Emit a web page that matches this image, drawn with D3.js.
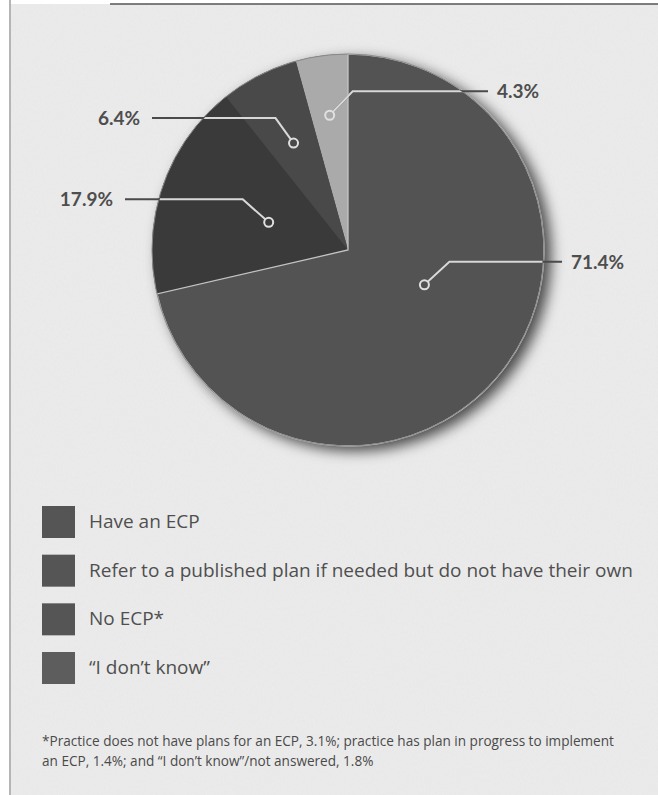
<!DOCTYPE html>
<html>
<head>
<meta charset="utf-8">
<script src="https://cdn.jsdelivr.net/npm/d3@7"></script>
<style>
  html, body { margin: 0; padding: 0; background: #ffffff; }
  svg { display: block; }
</style>
</head>
<body>
<div id="chart"></div>
<script>
// ---- data ----
const categories = ["Have an ECP", "Refer to a published plan if needed but do not have their own", "No ECP*", "\u201CI don\u2019t know\u201D"];
const values = [71.4, 17.9, 6.4, 4.3];
const valueLabels = ["71.4%", "17.9%", "6.4%", "4.3%"];
const footnoteLines = [
  "*Practice does not have plans for an ECP, 3.1%; practice has plan in progress to implement",
  "an ECP, 1.4%; and \u201CI don\u2019t know\u201D/not answered, 1.8%"
];

// ---- layout / style ----
const W = 658, H = 795;
const cx = 348, cy = 250, R = 196;
const sliceColors = ["#535353", "#3a3a3a", "#494949", "#aaaaaa"];
const sliceStroke = ["#c4c4c4", "none", "none", "none"];
const legendColors = ["#555555", "#555555", "#555555", "#5d5d5d"];
// leader layout per slice: anchor radius, angle shift (deg), elbow offset, horizontal end x, side
const leaders = [
  { r: 84, shift: -14, dx: 25, dy: -23, endX: 562, side: "right" },
  { r: 84, shift: 0, dx: -26, dy: -23, endX: 125, side: "left" },
  { r: 120, shift: 0, dx: -18, dy: -25, endX: 152, side: "left" },
  { r: 136, shift: 0, dx: 23, dy: -24, endX: 488, side: "right" }
];

const svg = d3.select("#chart").append("svg").attr("width", W).attr("height", H);
const defs = svg.append("defs");

// paper texture
const tex = defs.append("filter").attr("id", "paper").attr("x", 0).attr("y", 0).attr("width", 1).attr("height", 1);
tex.append("feTurbulence").attr("type", "fractalNoise").attr("baseFrequency", "0.9 0.35").attr("numOctaves", 2).attr("seed", 3).attr("result", "n");
tex.append("feColorMatrix").attr("in", "n").attr("type", "matrix")
  .attr("values", "0 0 0 0 0.62  0 0 0 0 0.62  0 0 0 0 0.62  0 0 0 0.18 0").attr("result", "nc");
tex.append("feComposite").attr("in", "nc").attr("in2", "SourceGraphic").attr("operator", "atop");

const shadow = defs.append("filter").attr("id", "shadow").attr("x", "-20%").attr("y", "-20%").attr("width", "140%").attr("height", "140%");
shadow.append("feDropShadow").attr("dx", 7).attr("dy", 5).attr("stdDeviation", 7).attr("flood-color", "#000").attr("flood-opacity", 0.7);

defs.append("clipPath").attr("id", "pieClip").append("circle").attr("cx", cx).attr("cy", cy).attr("r", R - 1);

// background
svg.append("rect").attr("x", 10).attr("y", 4).attr("width", W - 10).attr("height", H - 4)
  .attr("fill", "#ececec").attr("filter", "url(#paper)");
svg.append("line").attr("x1", 10).attr("x2", 10).attr("y1", 0).attr("y2", H).attr("stroke", "#b5b5b5").attr("stroke-width", 2);
svg.append("line").attr("x1", 110).attr("x2", W).attr("y1", 4).attr("y2", 4).attr("stroke", "#555").attr("stroke-width", 1.5);

// pie
const pie = d3.pie().sort(null).value(d => d).startAngle(0).endAngle(2 * Math.PI);
const arcs = pie(values);
const arc = d3.arc().innerRadius(0).outerRadius(R);

const g = svg.append("g").attr("transform", `translate(${cx},${cy})`);
g.append("circle").attr("r", R).attr("fill", "#444").attr("filter", "url(#shadow)");
const drawOrder = arcs.slice().reverse();
g.selectAll("path.slice").data(drawOrder).join("path")
  .attr("class", "slice")
  .attr("d", arc)
  .attr("fill", d => sliceColors[d.index])
  .attr("stroke", d => sliceStroke[d.index])
  .attr("stroke-width", 1.3);
g.append("circle").attr("r", R).attr("fill", "none").attr("stroke", "#8a8a8a").attr("stroke-width", 1);

// leaders
const pts = arcs.map((d, i) => {
  const L = leaders[i];
  const a = (d.startAngle + d.endAngle) / 2 + L.shift * Math.PI / 180;
  const x0 = cx + L.r * Math.sin(a), y0 = cy - L.r * Math.cos(a);
  return { i, L, x0, y0, x1: x0 + L.dx, y1: y0 + L.dy, x2: L.endX };
});
const lineGen = p => `M${p.x0},${p.y0}L${p.x1},${p.y1}L${p.x2},${p.y1}`;

svg.append("g").selectAll("path").data(pts).join("path")
  .attr("d", lineGen).attr("fill", "none").attr("stroke", "#4a4a4a").attr("stroke-width", 2);
svg.append("g").attr("clip-path", "url(#pieClip)").selectAll("path").data(pts).join("path")
  .attr("d", lineGen).attr("fill", "none").attr("stroke", "#d8d8d8").attr("stroke-width", 2);
svg.append("g").selectAll("circle").data(pts).join("circle")
  .attr("cx", p => p.x0).attr("cy", p => p.y0).attr("r", 4.5)
  .attr("fill", (p) => sliceColors[p.i]).attr("stroke", "#e0e0e0").attr("stroke-width", 2);

svg.append("g").selectAll("text").data(pts).join("text")
  .attr("x", p => p.L.side === "right" ? p.x2 + 9 : p.x2 - 12)
  .attr("y", p => p.y1 + 7)
  .attr("text-anchor", p => p.L.side === "right" ? "start" : "end")
  .attr("font-family", "Lato, 'Open Sans', sans-serif")
  .attr("font-weight", 700)
  .attr("font-size", 19)
  .attr("fill", "#4e4e4e")
  .text(p => valueLabels[p.i]);

// legend
const legend = svg.append("g");
const ly = d3.scalePoint().domain(d3.range(categories.length)).range([506, 652]);
legend.selectAll("rect").data(categories).join("rect")
  .attr("x", 42).attr("y", (d, i) => ly(i)).attr("width", 33).attr("height", 32)
  .attr("fill", (d, i) => legendColors[i]);
const legTexts = legend.selectAll("text").data(categories).join("text")
  .attr("x", 89).attr("y", (d, i) => ly(i) + 22)
  .attr("font-family", "'Open Sans', sans-serif")
  .attr("font-size", 17)
  .attr("fill", "#4f4f4f")
  .text(d => d);
// fit legend font so the longest entry spans the same width as the reference
const longest = d3.max(legTexts.nodes(), n => n.getComputedTextLength());
const legSize = 17 * 544 / longest;
legTexts.attr("font-size", legSize);

// footnote
const foot = svg.append("g").selectAll("text").data(footnoteLines).join("text")
  .attr("x", 42).attr("y", (d, i) => 746 + i * 20)
  .attr("font-family", "'Open Sans', sans-serif")
  .attr("font-size", 12)
  .attr("fill", "#4a4a4a")
  .text(d => d);
const fl = foot.nodes()[0].getComputedTextLength();
foot.attr("font-size", 12 * 572 / fl);
</script>
</body>
</html>
